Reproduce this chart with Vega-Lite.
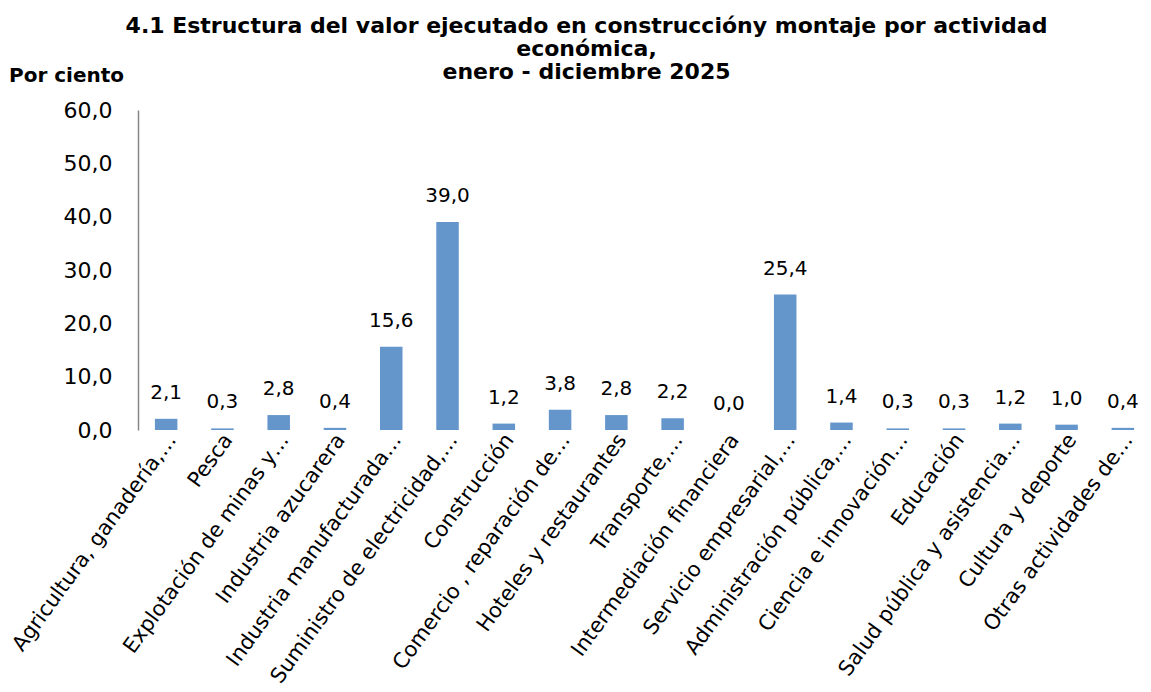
{
  "$schema": "https://vega.github.io/schema/vega-lite/v6.json",
  "autosize": {"type": "none"},
  "padding": {"left": 138, "top": 110, "right": 0, "bottom": 262},
  "width": 1013,
  "height": 320,
  "background": "white",
  "config": {
    "locale": {"number": {"decimal": ",", "thousands": ".", "grouping": [3], "currency": ["", ""]}},
    "view": {"stroke": null},
    "font": "DejaVu Sans"
  },
  "title": {
    "text": ["4.1 Estructura del valor ejecutado en construccióny montaje por actividad", "económica,", "enero - diciembre 2025"],
    "font": "DejaVu Sans",
    "fontSize": 22,
    "fontWeight": "bold",
    "lineHeight": 23,
    "anchor": "middle",
    "dx": -58,
    "offset": -19,
    "color": "#000000"
  },
  "data": {
    "values": [
      {"actividad": "Agricultura, ganadería,…", "valor": 2.1},
      {"actividad": "Pesca", "valor": 0.3},
      {"actividad": "Explotación de minas y…", "valor": 2.8},
      {"actividad": "Industria azucarera", "valor": 0.4},
      {"actividad": "Industria manufacturada…", "valor": 15.6},
      {"actividad": "Suministro de electricidad,…", "valor": 39.0},
      {"actividad": "Construcción", "valor": 1.2},
      {"actividad": "Comercio , reparación de…", "valor": 3.8},
      {"actividad": "Hoteles y restaurantes", "valor": 2.8},
      {"actividad": "Transporte,…", "valor": 2.2},
      {"actividad": "Intermediación financiera", "valor": 0.0},
      {"actividad": "Servicio empresarial,…", "valor": 25.4},
      {"actividad": "Administración pública,…", "valor": 1.4},
      {"actividad": "Ciencia e innovación…", "valor": 0.3},
      {"actividad": "Educación", "valor": 0.3},
      {"actividad": "Salud pública y asistencia…", "valor": 1.2},
      {"actividad": "Cultura y deporte", "valor": 1.0},
      {"actividad": "Otras actividades de…", "valor": 0.4}
    ]
  },
  "encoding": {
    "x": {
      "field": "actividad",
      "type": "nominal",
      "sort": null,
      "scale": {"paddingInner": 0.6, "paddingOuter": 0.3},
      "axis": {
        "title": null,
        "labelAngle": -54,
        "labelAlign": "right",
        "labelBaseline": "middle",
        "labelFontSize": 21,
        "labelColor": "#000000",
        "labelPadding": 6,
        "labelOffset": 6,
        "labelLimit": 400,
        "domain": false,
        "ticks": false
      }
    }
  },
  "layer": [
    {
      "mark": {"type": "bar", "color": "#6496CB"},
      "encoding": {
        "y": {
          "field": "valor",
          "type": "quantitative",
          "scale": {"domain": [0, 60]},
          "axis": {
            "title": "Por ciento",
            "titleAngle": 0,
            "titleX": -72,
            "titleY": -35,
            "titleAlign": "center",
            "titleBaseline": "middle",
            "titleFont": "DejaVu Sans",
            "titleFontSize": 20,
            "titleFontWeight": "bold",
            "titleColor": "#000000",
            "values": [0, 10, 20, 30, 40, 50, 60],
            "format": ".1f",
            "labelFontSize": 22,
            "labelColor": "#000000",
            "labelPadding": 26,
            "grid": false,
            "ticks": false,
            "domainColor": "#868686",
            "domainWidth": 1.5
          }
        }
      }
    },
    {
      "mark": {"type": "text", "fontSize": 20, "baseline": "alphabetic", "dy": -20, "color": "#000000"},
      "encoding": {
        "y": {"field": "valor", "type": "quantitative"},
        "text": {"field": "valor", "type": "quantitative", "format": ".1f"}
      }
    },
    {
      "mark": {"type": "rule", "color": "#868686", "strokeWidth": 9},
      "encoding": {"y": {"datum": 0}}
    }
  ]
}
